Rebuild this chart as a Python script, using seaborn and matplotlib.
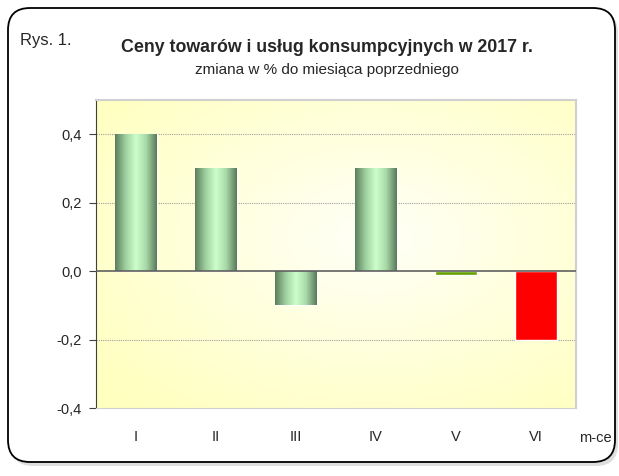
import numpy as np
import pandas as pd
import matplotlib
matplotlib.use("Agg")
import matplotlib.pyplot as plt
import seaborn as sb
from matplotlib.colors import LinearSegmentedColormap
from matplotlib.patches import FancyBboxPatch
from matplotlib.ticker import FuncFormatter

# dane
months = ["I", "II", "III", "IV", "V", "VI"]
change = [0.4, 0.3, -0.1, 0.3, -0.01, -0.2]
bar_colors = ["#9ccf9c", "#9ccf9c", "#9ccf9c", "#9ccf9c", "#66a000", "#ff0000"]
gradient_bars = [True, True, True, True, False, False]
y_ticks = [-0.4, -0.2, 0.0, 0.2, 0.4]

sb.set_style("white")
plt.rcParams["font.family"] = ["Liberation Sans", "DejaVu Sans"]

fig = plt.figure(figsize=(6.19, 4.76), dpi=100)

# ramka z zaokraglonymi rogami
bg = fig.add_axes([0, 0, 1, 1])
bg.set_xlim(0, 619)
bg.set_ylim(0, 476)
bg.axis("off")
shadow = FancyBboxPatch((11, 10), 607, 455, boxstyle="round,pad=0,rounding_size=22",
                        facecolor="#c8c8c8", edgecolor="none", alpha=0.6)
frame = FancyBboxPatch((8, 14), 607, 454, boxstyle="round,pad=0,rounding_size=22",
                       facecolor="white", edgecolor="black", linewidth=1.3)
bg.add_patch(shadow)
bg.add_patch(frame)

fig.text(20 / 619, 1 - 40 / 476, "Rys. 1.", fontsize=12, va="center", ha="left")
fig.text(327 / 619, 1 - 47 / 476, "Ceny towarów i usług konsumpcyjnych w 2017 r.",
         fontsize=12.8, fontweight="bold", va="center", ha="center")
fig.text(327 / 619, 1 - 70 / 476, "zmiana w % do miesiąca poprzedniego",
         fontsize=11, va="center", ha="center")

ax = fig.add_axes([96 / 619, 68 / 476, 480 / 619, 308 / 476])
df = pd.DataFrame({"miesiac": months, "zmiana": change})
sb.barplot(data=df, x="miesiac", y="zmiana", hue="miesiac", palette=bar_colors,
           legend=False, width=0.52, saturation=1, ax=ax, zorder=3)

ax.set_xlim(-0.5, 5.5)
ax.set_ylim(-0.4, 0.5)

# tlo - gradient zolty
yy, xx = np.mgrid[0:1:200j, 0:1:300j]
r = np.sqrt(((xx - 0.58) / 0.75) ** 2 + ((yy - 0.55) / 0.75) ** 2)
r = np.clip(r, 0, 1)
c_in = np.array([255, 255, 248]) / 255
c_out = np.array([255, 255, 190]) / 255
img = c_in[None, None, :] * (1 - r[..., None]) + c_out[None, None, :] * r[..., None]
ax.imshow(img, extent=(-0.5, 5.5, -0.4, 0.5), aspect="auto", zorder=0, origin="lower")

# gradient walca na zielonych slupkach
cyl = LinearSegmentedColormap.from_list("cyl", ["#5d7f5d", "#9fd09f", "#ccffcc", "#a8d8a8", "#5a7a5a"])
grad = np.linspace(0, 1, 100)[None, :]
for patch, use_grad in zip(ax.patches, gradient_bars):
    if not use_grad:
        continue
    x0, y0 = patch.get_x(), patch.get_y()
    w, h = patch.get_width(), patch.get_height()
    im = ax.imshow(grad, cmap=cyl, extent=(x0, x0 + w, y0, y0 + h), aspect="auto", zorder=3)
    im.set_clip_path(patch)
    patch.set_facecolor("none")

ax.set_xlim(-0.5, 5.5)
ax.set_ylim(-0.4, 0.5)

ax.axhline(0, color="#606060", linewidth=1.2, zorder=4)
for t in [0.4, 0.2, -0.2]:
    ax.axhline(t, color="#a0a0a0", linewidth=0.8, linestyle=(0, (1, 1)), zorder=1)

ax.set_yticks(y_ticks)
ax.yaxis.set_major_formatter(FuncFormatter(lambda v, p: f"{v:.1f}".replace(".", ",").replace("-0,0", "0,0")))
ax.tick_params(axis="y", left=True, length=5, color="#404040", labelsize=10.5, pad=5)
ax.tick_params(axis="x", bottom=False, labelsize=10.5, pad=12)
ax.set_xlabel("")
ax.set_ylabel("")

for side in ["top", "right"]:
    ax.spines[side].set_color("#d0d0d0")
    ax.spines[side].set_linewidth(1.5)
ax.spines["bottom"].set_color("#d0d0d0")
ax.spines["left"].set_color("#404040")

fig.text(595 / 619, 1 - 438 / 476, "m-ce", fontsize=10.5, va="center", ha="center")

fig.savefig("out.png", dpi=100)
